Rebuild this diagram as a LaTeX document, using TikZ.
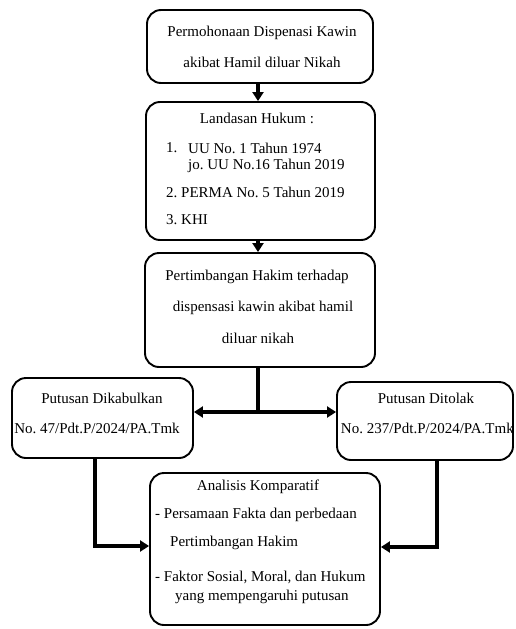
\documentclass[tikz,border=0pt]{standalone}
\usepackage{fontspec}
\setmainfont{Liberation Serif}
\usetikzlibrary{arrows.meta,calc}
\frenchspacing
\begin{document}
\begin{tikzpicture}[x=1pt,y=-1pt,
  box/.style={draw,line width=1.9pt,rounded corners=14pt,inner sep=0pt},
  txt/.style={inner sep=0pt,font=\fontsize{15}{18}\selectfont},
  conn/.style={line width=3.4pt},
  arr/.style={line width=3.4pt,-{Triangle[length=9pt,width=11pt]}}]
\useasboundingbox (0,0) rectangle (515,629);
% boxes
\node[box,minimum width=226pt,minimum height=73pt] (b1) at (260,46.5) {};
\node[box,minimum width=229pt,minimum height=138pt] (b2) at (260.5,171) {};
\node[box,minimum width=230pt,minimum height=114pt] (b3) at (260,310) {};
\node[box,minimum width=181pt,minimum height=80pt] (bl) at (102.5,418) {};
\node[box,minimum width=176pt,minimum height=78pt] (br) at (425,421) {};
\node[box,minimum width=230pt,minimum height=152pt] (b5) at (265,549) {};
% texts
\node[txt] (t1a) at (262,33) {Permohonaan Dispenasi Kawin};
\node[txt] (t1b) at (262,62) {akibat Hamil diluar Nikah};
\node[txt] (t2a) at (257,118) {Landasan Hukum :};
\node[txt,anchor=west] (t2b) at (166,148) {1.};
\node[txt,anchor=west] (t2c) at (188,148) {UU No. 1 Tahun 1974};
\node[txt,anchor=west] (t2d) at (188,166) {jo. UU No.16 Tahun 2019};
\node[txt,anchor=west] (t2e) at (166,192) {2. PERMA No. 5 Tahun 2019};
\node[txt,anchor=west] (t2f) at (166,220) {3. KHI};
\node[txt] (t3a) at (257,277) {Pertimbangan Hakim terhadap};
\node[txt] (t3b) at (263,308) {dispensasi kawin akibat hamil};
\node[txt] (t3c) at (258,338) {diluar nikah};
\node[txt] (tla) at (102,398) {Putusan Dikabulkan};
\node[txt] (tlb) at (97,428) {No. 47/Pdt.P/2024/PA.Tmk};
\node[txt] (tra) at (426,398) {Putusan Ditolak};
\node[txt,anchor=east] (trb) at (514,428) {No. 237/Pdt.P/2024/PA.Tmk};
\node[txt] (t5a) at (258,487) {Analisis Komparatif};
\node[txt,anchor=west] (t5b) at (155,515) {- Persamaan Fakta dan perbedaan};
\node[txt,anchor=west] (t5c) at (170,543) {Pertimbangan Hakim};
\node[txt,anchor=west] (t5d) at (155,577) {- Faktor Sosial, Moral, dan Hukum};
\node[txt,anchor=west] (t5e) at (175,597) {yang mempengaruhi putusan};
% connectors
\coordinate (j) at (258,412);
\draw[arr] (b1.south -| 258,0) -- (b2.north -| 258,0);
\draw[arr] (b2.south -| 258,0) -- (b3.north -| 258,0);
\draw[conn] (b3.south -| j) -- (j);
\draw[arr] (j) -- (j -| bl.east);
\draw[arr] (j) -- (j -| br.west);
\coordinate (lj) at (95,546);
\coordinate (rj) at (437,547);
\draw[arr,line join=miter] (bl.south -| lj) -- (lj) -- (lj -| b5.west);
\draw[arr,line join=miter] (br.south -| rj) -- (rj) -- (rj -| b5.east);
\end{tikzpicture}
\end{document}
